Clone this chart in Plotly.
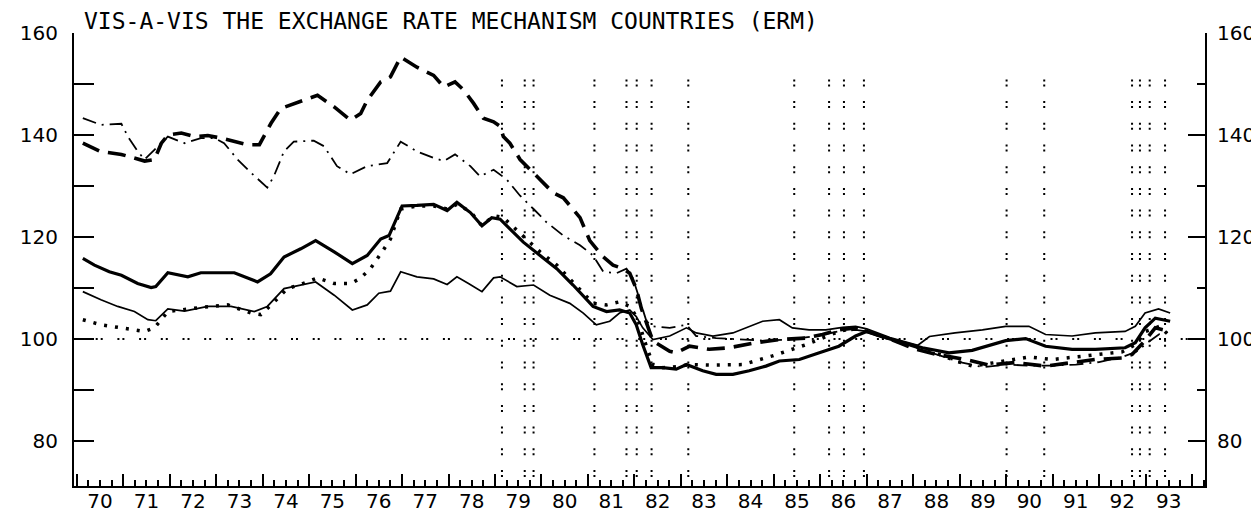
import plotly.graph_objects as go

# ---------------- data (decimal years, index values) ----------------
year_start = list(range(1970, 1995))
year_labels = ["70", "71", "72", "73", "74", "75", "76", "77", "78", "79", "80", "81",
               "82", "83", "84", "85", "86", "87", "88", "89", "90", "91", "92", "93"]

# thick dashed series
td_t = [1970.13, 1970.5, 1970.96, 1971.2, 1971.46, 1971.67, 1971.82, 1971.96, 1972.25, 1972.53,
        1972.82, 1973.1, 1973.39, 1973.68, 1973.93, 1974.03, 1974.18, 1974.39, 1974.68, 1975.18,
        1975.54, 1975.89, 1976.11, 1976.25, 1976.54, 1976.75, 1976.97, 1977.32, 1977.68, 1977.9,
        1978.14, 1978.33, 1978.54, 1978.75, 1978.97, 1979.11, 1979.18, 1979.32, 1979.54, 1979.9,
        1980.25, 1980.47, 1980.68, 1980.83, 1981.04, 1981.33, 1981.54, 1981.76, 1981.9, 1982.04,
        1982.15, 1982.26, 1982.4, 1982.76, 1982.9, 1983.19, 1983.61, 1984.04, 1984.62, 1985.12,
        1985.69, 1986.05, 1986.4, 1986.76, 1987.0, 1987.5, 1988.06, 1988.5, 1989.13, 1989.63,
        1990.2, 1990.85, 1991.42, 1991.92, 1992.49, 1992.71, 1992.98, 1993.21, 1993.53]
td_v = [138.4, 136.8, 136.2, 135.5, 134.9, 135.2, 138.4, 140.0, 140.4, 139.7,
        139.9, 139.4, 138.7, 138.1, 138.1, 139.7, 142.3, 145.2, 146.2, 147.8,
        145.5, 142.9, 144.2, 146.8, 150.4, 151.4, 155.3, 153.3, 151.7, 149.4,
        150.4, 148.8, 146.2, 143.3, 142.6, 141.7, 139.7, 138.4, 135.2, 131.9,
        128.7, 127.7, 125.5, 123.8, 119.3, 116.1, 114.5, 113.8, 112.9, 109.9,
        106.0, 103.0, 99.6, 97.6, 97.3, 98.6, 98.0, 98.3, 99.3, 99.9,
        100.2, 100.9, 101.8, 102.2, 101.5, 100.0, 98.0, 97.0, 96.0, 94.9,
        95.4, 94.7, 95.4, 96.0, 96.3, 97.0, 99.6, 102.2, 101.5]

# thin dash-dot series
dd_t = [1970.13, 1970.52, 1970.96, 1971.1, 1971.31, 1971.46, 1971.67, 1971.96, 1972.32, 1972.67,
        1972.96, 1973.17, 1973.46, 1973.75, 1974.1, 1974.24, 1974.46, 1974.67, 1975.1, 1975.32,
        1975.6, 1975.89, 1976.25, 1976.68, 1976.97, 1977.32, 1977.68, 1977.9, 1978.14, 1978.47,
        1978.68, 1978.97, 1979.25, 1979.54, 1979.83, 1980.11, 1980.47, 1980.83, 1981.11, 1981.33,
        1981.61, 1981.83, 1981.97, 1982.11, 1982.26, 1982.4, 1982.76, 1983.12, 1983.33, 1983.76,
        1984.26, 1984.76, 1985.33, 1985.9, 1986.4, 1986.76, 1987.0, 1987.5, 1988.0, 1988.5,
        1989.0, 1989.5, 1990.0, 1990.5, 1991.0, 1991.5, 1992.0, 1992.5, 1992.8, 1993.0,
        1993.3, 1993.53]
dd_v = [143.3, 142.0, 142.2, 139.7, 136.8, 135.2, 137.1, 139.7, 138.4, 139.4,
        139.4, 138.4, 135.2, 132.6, 129.7, 131.9, 136.8, 138.7, 138.9, 137.8,
        133.9, 132.3, 133.9, 134.5, 138.7, 136.8, 135.5, 134.9, 136.2, 133.9,
        131.9, 133.2, 131.3, 128.1, 125.5, 122.9, 120.3, 118.4, 116.4, 113.2,
        112.9, 113.8, 111.9, 108.0, 103.5, 102.5, 102.2, 102.8, 100.6, 100.2,
        99.9, 99.7, 99.9, 100.6, 101.5, 101.8, 101.5, 100.0, 98.5, 97.0,
        95.5, 94.5, 95.0, 94.8, 94.8, 95.0, 95.5, 96.5, 97.5, 99.0,
        101.0, 101.5]

# thick solid series
ts_t = [1970.13, 1970.38, 1970.7, 1970.96, 1971.31, 1971.6, 1971.7, 1971.96, 1972.39, 1972.67,
        1973.39, 1973.89, 1974.17, 1974.46, 1974.82, 1975.14, 1975.54, 1975.93, 1976.25, 1976.54,
        1976.72, 1977.0, 1977.32, 1977.68, 1977.97, 1978.18, 1978.47, 1978.72, 1978.93, 1979.11,
        1979.32, 1979.61, 1979.97, 1980.33, 1980.68, 1981.11, 1981.4, 1981.68, 1981.9, 1982.04,
        1982.18, 1982.36, 1982.61, 1982.9, 1983.12, 1983.47, 1983.76, 1984.12, 1984.47, 1984.83,
        1985.12, 1985.55, 1985.98, 1986.4, 1986.76, 1987.0, 1987.5, 1988.06, 1988.2, 1988.77,
        1989.27, 1989.99, 1990.42, 1990.85, 1991.42, 1991.92, 1992.56, 1992.78, 1992.99, 1993.21,
        1993.53]
ts_v = [115.8, 114.5, 113.2, 112.5, 110.9, 110.1, 110.3, 113.0, 112.2, 113.0,
        113.0, 111.2, 112.8, 116.1, 117.7, 119.3, 117.1, 114.8, 116.4, 119.6,
        120.3, 126.1, 126.2, 126.4, 125.2, 126.8, 124.8, 122.2, 123.8, 123.5,
        121.6, 119.0, 116.4, 113.8, 110.6, 106.4, 105.4, 105.7, 105.1, 102.8,
        98.9, 94.4, 94.4, 94.1, 95.0, 93.8, 93.1, 93.1, 93.8, 94.7,
        95.7, 96.0, 97.3, 98.6, 100.6, 101.5, 100.0, 98.6, 98.3, 97.3,
        97.8, 99.7, 100.1, 98.6, 98.0, 98.0, 98.3, 99.3, 102.2, 104.1,
        103.5]

# thin solid series
tn_t = [1970.13, 1970.52, 1970.88, 1971.24, 1971.53, 1971.7, 1971.96, 1972.32, 1972.82, 1973.32,
        1973.82, 1974.1, 1974.46, 1974.82, 1975.14, 1975.54, 1975.93, 1976.25, 1976.5, 1976.75,
        1976.97, 1977.32, 1977.68, 1977.97, 1978.18, 1978.43, 1978.72, 1978.97, 1979.11, 1979.47,
        1979.83, 1980.18, 1980.61, 1980.9, 1981.18, 1981.47, 1981.68, 1981.9, 1982.04, 1982.18,
        1982.4, 1982.76, 1983.12, 1983.33, 1983.69, 1984.12, 1984.47, 1984.76, 1985.12, 1985.4,
        1985.76, 1986.12, 1986.48, 1986.76, 1987.0, 1987.5, 1988.1, 1988.35, 1988.9, 1989.49,
        1989.99, 1990.49, 1990.85, 1991.42, 1991.92, 1992.56, 1992.78, 1992.99, 1993.28, 1993.53]
tn_v = [109.3, 107.7, 106.4, 105.4, 103.8, 103.6, 105.9, 105.5, 106.4, 106.4,
        105.4, 106.4, 109.9, 110.6, 111.2, 108.6, 105.7, 106.7, 109.0, 109.4,
        113.2, 112.2, 111.8, 110.7, 112.2, 110.9, 109.3, 112.0, 112.2, 110.3,
        110.6, 108.6, 107.0, 105.1, 102.8, 103.5, 105.1, 105.7, 104.4, 102.2,
        99.9, 100.6, 102.2, 101.2, 100.6, 101.2, 102.5, 103.5, 103.8, 102.2,
        101.8, 101.8, 102.3, 102.5, 102.0, 100.3, 98.8, 100.5, 101.2, 101.8,
        102.5, 102.5, 100.9, 100.6, 101.2, 101.5, 102.5, 105.1, 105.9, 105.1]

# dotted series
dt_t = [1970.13, 1970.52, 1970.96, 1971.46, 1971.67, 1971.96, 1972.67, 1973.25, 1973.75, 1973.96,
        1974.25, 1974.53, 1974.82, 1975.18, 1975.54, 1975.9, 1976.1, 1976.32, 1976.57, 1976.75,
        1976.97, 1977.32, 1977.68, 1977.97, 1978.18, 1978.47, 1978.72, 1978.97, 1979.18, 1979.32,
        1979.61, 1979.97, 1980.33, 1980.68, 1981.11, 1981.4, 1981.68, 1981.9, 1982.07, 1982.22,
        1982.4, 1982.61, 1982.9, 1983.2, 1983.61, 1984.33, 1984.97, 1985.69, 1986.4, 1986.76,
        1987.0, 1987.5, 1988.06, 1988.56, 1988.92, 1989.27, 1989.77, 1990.13, 1990.5, 1991.0,
        1991.5, 1992.0, 1992.5, 1992.8, 1993.0, 1993.3, 1993.53]
dt_v = [103.8, 102.8, 102.2, 101.5, 102.2, 105.4, 106.2, 106.7, 105.1, 104.8,
        107.3, 109.9, 110.7, 112.0, 110.9, 110.9, 111.9, 113.8, 117.1, 119.6,
        125.5, 126.1, 126.1, 125.5, 126.4, 125.0, 122.2, 124.2, 123.8, 122.6,
        120.0, 117.1, 114.5, 111.2, 107.0, 106.7, 107.3, 106.4, 104.1, 99.6,
        95.0, 94.4, 94.6, 95.0, 94.9, 95.0, 96.7, 98.9, 101.5, 102.2,
        101.5, 100.0, 98.3, 97.0, 95.7, 94.7, 95.4, 96.0, 96.5, 96.0,
        96.5, 97.0, 97.5, 99.0, 101.5, 102.5, 100.5]

# dates of the dotted vertical markers (realignments)
event_dates = [1979.15, 1979.64, 1979.83, 1981.14, 1981.83, 1982.05, 1982.37, 1983.16,
               1985.44, 1986.19, 1986.51, 1986.94, 1990.01, 1990.82, 1992.71, 1992.88,
               1993.09, 1993.42]
event_top = 150.9
ref_level = 100

x_range = [1969.94, 1994.28]
y_range = [71.2, 160]
y_major = [80, 100, 120, 140, 160]
y_minor = [90, 110, 130, 150]

title_text = "VIS-A-VIS THE EXCHANGE RATE MECHANISM COUNTRIES (ERM)"

# ---------------- figure ----------------
fig = go.Figure()
grid_dash = "2px,3px,2px,14.7px"

for d in event_dates:
    fig.add_shape(type="line", xref="x", yref="y", x0=d, x1=d, y0=event_top, y1=y_range[0],
                  line=dict(color="black", width=2, dash=grid_dash), layer="below")
fig.add_shape(type="line", xref="x", yref="y", x0=x_range[0], x1=x_range[1], y0=ref_level, y1=ref_level,
              line=dict(color="black", width=2, dash=grid_dash), layer="below")

common = dict(mode="lines", showlegend=False, hoverinfo="skip")
fig.add_trace(go.Scatter(x=dd_t, y=dd_v, line=dict(color="black", width=1.8, dash="14px,6px,2px,6px"), **common))
fig.add_trace(go.Scatter(x=tn_t, y=tn_v, line=dict(color="black", width=1.7), **common))
fig.add_trace(go.Scatter(x=dt_t, y=dt_v, line=dict(color="black", width=3.5, dash="3px,8px"), **common))
fig.add_trace(go.Scatter(x=ts_t, y=ts_v, line=dict(color="black", width=3.2), **common))
fig.add_trace(go.Scatter(x=td_t, y=td_v, line=dict(color="black", width=3.6, dash="18px,9px"), **common))
# anchors for overlay axes
fig.add_trace(go.Scatter(x=[None], y=[None], xaxis="x2", yaxis="y", **common))
fig.add_trace(go.Scatter(x=[None], y=[None], xaxis="x", yaxis="y2", **common))

tick_font = dict(family="DejaVu Sans", size=20, color="black")

fig.update_layout(
    width=1259, height=517,
    margin=dict(l=66, r=59, t=25, b=34),
    paper_bgcolor="white", plot_bgcolor="white",
    xaxis=dict(range=x_range, showgrid=False, zeroline=False, showline=True, linecolor="black",
               linewidth=2, ticks="inside", ticklen=12, tickwidth=1.5, tickcolor="black",
               tickvals=year_start, ticktext=[""] * len(year_start),
               minor=dict(tickvals=[y + q for y in year_start for q in (0.25, 0.5, 0.75)],
                          ticks="inside", ticklen=6, tickwidth=1.5, tickcolor="black", showgrid=False)),
    xaxis2=dict(range=x_range, overlaying="x", anchor="y", side="bottom", showgrid=False,
                zeroline=False, showline=False, ticks="",
                tickvals=[y + 0.5 for y in year_start[:len(year_labels)]], ticktext=year_labels,
                tickfont=tick_font, ticklabelstandoff=1),
    yaxis=dict(range=y_range, showgrid=False, zeroline=False, showline=True, linecolor="black",
               linewidth=2, ticks="inside", ticklen=20, tickwidth=1.5, tickcolor="black",
               tickvals=y_major, ticktext=[str(v) for v in y_major], tickfont=tick_font,
               ticklabelstandoff=10,
               minor=dict(tickvals=y_minor, ticks="inside", ticklen=20, tickwidth=1.5,
                          tickcolor="black", showgrid=False)),
    yaxis2=dict(range=y_range, overlaying="y", side="right", anchor="x", showgrid=False,
                zeroline=False, showline=True, linecolor="black", linewidth=2,
                ticks="inside", ticklen=17, tickwidth=1.5, tickcolor="black",
                tickvals=y_major, ticktext=[str(v) for v in y_major], tickfont=tick_font,
                ticklabelstandoff=6,
                minor=dict(tickvals=y_minor, ticks="inside", ticklen=8, tickwidth=1.5,
                           tickcolor="black", showgrid=False)),
    annotations=[dict(text=title_text,
                      xref="paper", yref="paper", x=0.007, y=1, xanchor="left", yanchor="top",
                      yshift=27, showarrow=False,
                      font=dict(family="DejaVu Sans Mono", size=23, color="black"))],
)

fig.write_html("out.html")
